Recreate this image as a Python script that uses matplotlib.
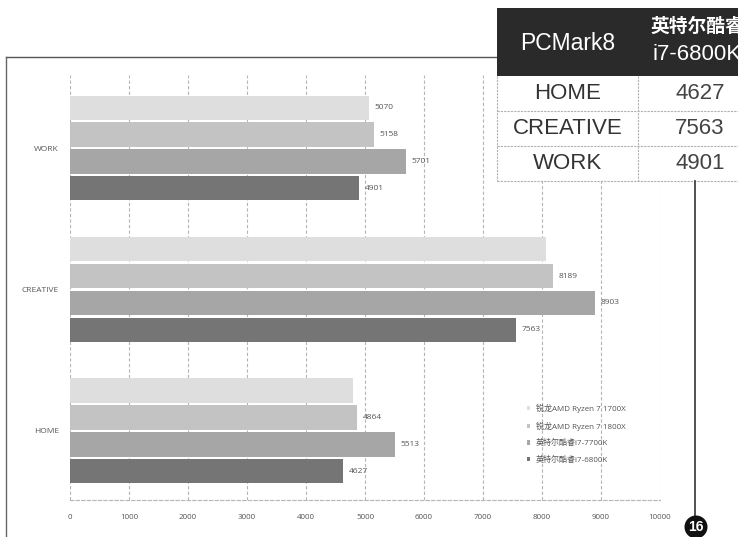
import matplotlib
matplotlib.use("Agg")
import matplotlib.pyplot as plt
import numpy as np
from matplotlib.patches import Rectangle, Circle

plt.rcParams['font.family'] = ['Open Sans', 'Noto Sans CJK SC', 'DejaVu Sans']

# data
categories = ['HOME', 'CREATIVE', 'WORK']
series_names = ['锐龙AMD Ryzen 7 1700X', '锐龙AMD Ryzen 7 1800X',
                '英特尔酷睿i7-7700K', '英特尔酷睿i7-6800K']
r1700x = [4800, 8070, 5070]
r1800x = [4864, 8189, 5158]
i7700k = [5513, 8903, 5701]
i6800k = [4627, 7563, 4901]
# which values carry a number label in the original
r1700x_labels = [None, None, '5070']
x_ticks = [0, 1000, 2000, 3000, 4000, 5000, 6000, 7000, 8000, 9000, 10000]

table_header = ['PCMark8', '英特尔酷睿\ni7-6800K']
table_rows = ['HOME', 'CREATIVE', 'WORK']
table_vals = [4627, 7563, 4901]
page_no = '16'

colors = ['#dedede', '#c3c3c3', '#a6a6a6', '#757575']

W, H = 738, 537
fig = plt.figure(figsize=(W / 100, H / 100), dpi=100)
fig.patch.set_facecolor('white')

# main chart axes: x 70..660 px, y 75..500 px
ax = fig.add_axes([70 / W, 37 / H, 590 / W, 425 / H])
ax.set_facecolor('none')

y = np.arange(len(categories))
step = 0.19
h = 0.172
all_series = [r1700x, r1800x, i7700k, i6800k]
offsets = [1.5 * step, 0.5 * step, -0.5 * step, -1.5 * step]
for vals, off, col, name in zip(all_series, offsets, colors, series_names):
    ax.barh(y + off, vals, height=h, color=col, label=name, zorder=2)

label_sets = [r1700x_labels,
              [str(v) for v in r1800x],
              [str(v) for v in i7700k],
              [str(v) for v in i6800k]]
for vals, labs, off in zip(all_series, label_sets, offsets):
    for yi, v, lab in zip(y, vals, labs):
        if lab is None:
            continue
        ax.annotate(lab, (v, yi + off), xytext=(4, 0), textcoords='offset points',
                    ha='left', va='center', fontsize=6, color='#555555')

ax.set_xlim(0, 10000)
ax.set_ylim(-0.488, 2.516)
ax.set_xticks(x_ticks)
ax.set_xticklabels([str(t) for t in x_ticks], fontsize=5.8, color='#555555')
ax.set_yticks(y)
ax.set_yticklabels(categories, fontsize=6, color='#555555')
ax.tick_params(axis='both', length=0)
ax.tick_params(axis='x', pad=10)
ax.tick_params(axis='y', pad=8)
ax.grid(axis='x', color='#b5b5b5', linestyle=(0, (3, 2)), linewidth=0.8, zorder=0)
for s in ['top', 'right', 'left']:
    ax.spines[s].set_visible(False)
ax.spines['bottom'].set_color('#b5b5b5')
ax.spines['bottom'].set_linestyle((0, (3, 2)))
ax.spines['bottom'].set_linewidth(0.8)

leg = ax.legend(loc='upper left', bbox_to_anchor=(0.774, 0.226), frameon=False,
                fontsize=5.8, handlelength=0.45, handleheight=0.45, handletextpad=0.7,
                labelspacing=1.05, borderpad=0, borderaxespad=0)
for t in leg.get_texts():
    t.set_color('#555555')

# overlay in pixel coordinates for the page decorations and the table
ov = fig.add_axes([0, 0, 1, 1], zorder=5)
ov.set_xlim(0, W)
ov.set_ylim(H, 0)
ov.axis('off')
ov.patch.set_alpha(0)

# page frame
ov.plot([6, 497], [57, 57], color='#555555', lw=1.0)
ov.plot([6, 6], [57, H], color='#666666', lw=1.0)

# table
tx0, tdiv, tx1 = 497, 638, 760
ty0, thead, trow = 8, 76, 35
ov.add_patch(Rectangle((tx0, thead), tx1 - tx0, trow * 3, facecolor='white',
                       edgecolor='none', zorder=1))
ov.add_patch(Rectangle((tx0, ty0), tx1 - tx0, thead - ty0, facecolor='#2a2a2a',
                       edgecolor='none', zorder=2))
ov.text((tx0 + tdiv) / 2, 43, table_header[0], ha='center', va='center', color='white',
        fontsize=16.5, family=['Liberation Sans', 'Noto Sans CJK SC'], zorder=3)
hdr = table_header[1].split('\n')
ov.text(697, 26, hdr[0], ha='center', va='center', color='white', fontsize=13.5,
        fontweight='bold', family=['Noto Sans CJK SC'], zorder=3)
ov.text(697, 55, hdr[1], ha='center', va='center', color='white', fontsize=16,
        family=['Liberation Sans', 'Noto Sans CJK SC'], zorder=3)
for i, (name, val) in enumerate(zip(table_rows, table_vals)):
    yc = thead + trow * i + trow / 2
    ov.text((tx0 + tdiv) / 2, yc, name, ha='center', va='center', color='#333333',
            fontsize=16, family=['Liberation Sans'], zorder=3)
    ov.text(700, yc, str(val), ha='center', va='center', color='#444444',
            fontsize=16, family=['Liberation Sans'], zorder=3)
    ov.plot([tx0, tx1], [thead + trow * (i + 1)] * 2, color='#b0b0b0', lw=0.8,
            ls=(0, (2, 1)), zorder=3)
ov.plot([tx0, tx0], [thead, thead + trow * 3], color='#b0b0b0', lw=0.8, ls=(0, (2, 1)), zorder=3)
ov.plot([tdiv, tdiv], [thead, thead + trow * 3], color='#b0b0b0', lw=0.8, ls=(0, (2, 1)), zorder=3)

# page number badge
ov.plot([695, 695], [thead + trow * 3, 518], color='#444444', lw=1.3, zorder=3)
ov.add_patch(Circle((696, 527), 11.5, facecolor='#111111', edgecolor='none', zorder=4))
ov.text(696, 527, page_no, ha='center', va='center', color='white', fontsize=10,
        fontweight='bold', family=['Liberation Sans'], zorder=5)

fig.savefig('out.png', dpi=100, facecolor='white')
